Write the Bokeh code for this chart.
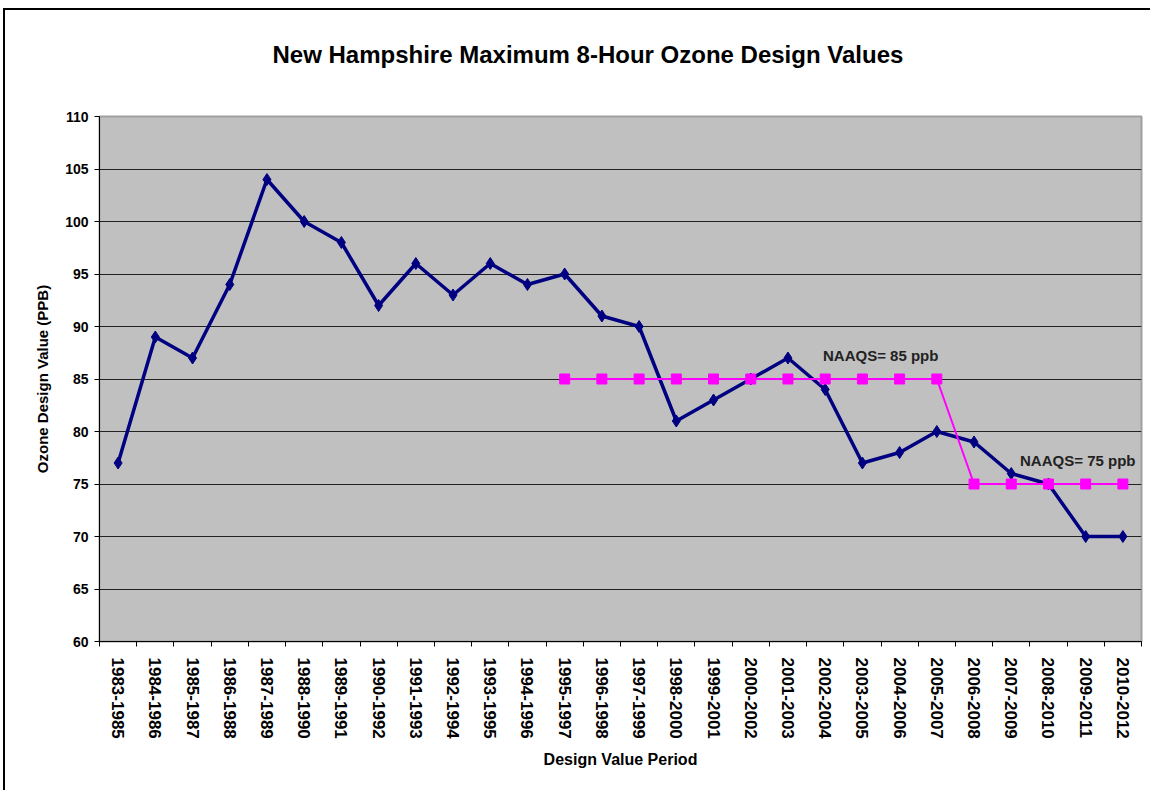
from bokeh.plotting import figure
from bokeh.models import (Range1d, FixedTicker, LinearAxis, Label, ColumnDataSource, Grid, Title)
from bokeh.embed import file_html
from bokeh.resources import INLINE

periods = ["1983-1985", "1984-1986", "1985-1987", "1986-1988", "1987-1989", "1988-1990",
           "1989-1991", "1990-1992", "1991-1993", "1992-1994", "1993-1995", "1994-1996",
           "1995-1997", "1996-1998", "1997-1999", "1998-2000", "1999-2001", "2000-2002",
           "2001-2003", "2002-2004", "2003-2005", "2004-2006", "2005-2007", "2006-2008",
           "2007-2009", "2008-2010", "2009-2011", "2010-2012"]
design_values = [77, 89, 87, 94, 104, 100, 98, 92, 96, 93, 96, 94, 95, 91, 90, 81, 83, 85,
                 87, 84, 77, 78, 80, 79, 76, 75, 70, 70]
naaqs_periods = ["1995-1997", "1996-1998", "1997-1999", "1998-2000", "1999-2001", "2000-2002",
                 "2001-2003", "2002-2004", "2003-2005", "2004-2006", "2005-2007", "2006-2008",
                 "2007-2009", "2008-2010", "2009-2011", "2010-2012"]
naaqs_values = [85, 85, 85, 85, 85, 85, 85, 85, 85, 85, 85, 75, 75, 75, 75, 75]
y_ticks = [60, 65, 70, 75, 80, 85, 90, 95, 100, 105, 110]
title_text = "New Hampshire Maximum 8-Hour Ozone Design Values"

FONT = "Liberation Sans"

idx = {c: i for i, c in enumerate(periods)}
x_main = [idx[c] + 0.5 for c in periods]
x_naaqs = [idx[c] + 0.5 for c in naaqs_periods]

p = figure(width=1147, height=782, output_backend="svg", toolbar_location=None,
           x_range=Range1d(0, len(periods)), y_range=Range1d(y_ticks[0], y_ticks[-1]),
           x_axis_type=None, y_axis_type=None,
           min_border_left=94, min_border_right=11, min_border_top=106, min_border_bottom=151,
           background_fill_color="#C0C0C0", border_fill_color="white",
           outline_line_color="#A0A0A0", outline_line_width=2)
p.styles = {"border-left": "2px solid black", "border-top": "2px solid black",
            "margin-left": "3px", "margin-top": "8px"}

# y axis
yax = LinearAxis(ticker=FixedTicker(ticks=y_ticks, minor_ticks=[]))
yax.axis_line_color = "black"
yax.major_tick_out = 5
yax.major_tick_in = 0
yax.major_label_text_font = FONT
yax.major_label_text_font_style = "bold"
yax.major_label_text_font_size = "14px"
yax.major_label_text_color = "black"
yax.major_label_standoff = 6
yax.axis_label = "Ozone Design Value (PPB)"
yax.axis_label_text_font = FONT
yax.axis_label_text_font_style = "bold"
yax.axis_label_text_font_size = "15px"
yax.axis_label_text_color = "black"
yax.axis_label_standoff = 11
p.add_layout(yax, "left")

# x axis: labels at category centres, tick marks at boundaries
xax = LinearAxis(ticker=FixedTicker(ticks=x_main, minor_ticks=list(range(len(periods) + 1))))
xax.major_label_overrides = {x: c for x, c in zip(x_main, periods)}
xax.major_label_orientation = "vertical"
xax.major_tick_line_color = None
xax.minor_tick_out = 5
xax.minor_tick_in = 0
xax.minor_tick_line_color = "black"
xax.axis_line_color = "black"
xax.major_label_text_font = FONT
xax.major_label_text_font_style = "bold"
xax.major_label_text_font_size = "17px"
xax.major_label_text_color = "black"
xax.major_label_standoff = 10
xax.axis_label = "Design Value Period"
xax.axis_label_text_font = FONT
xax.axis_label_text_font_style = "bold"
xax.axis_label_text_font_size = "16px"
xax.axis_label_text_color = "black"
xax.axis_label_standoff = 9
p.add_layout(xax, "below")

grid = Grid(dimension=1, ticker=FixedTicker(ticks=y_ticks[1:-1]),
            grid_line_color="#222222", grid_line_width=1)
p.add_layout(grid)

# title: an empty second line lifts it higher above the plot area
p.title = Title(text=title_text + "\n ", text_font=FONT, text_font_style="bold",
                text_font_size="24px", text_color="black", align="left", offset=173,
                vertical_align="top")
p.title.standoff = 40

src = ColumnDataSource(dict(x=x_main, y=design_values))
p.line("x", "y", source=src, line_color="#000080", line_width=3.5)
p.scatter("x", "y", source=src, marker="diamond", size=12, fill_color="#000080",
          line_color="#000080")

nsrc = ColumnDataSource(dict(x=x_naaqs, y=naaqs_values))
p.line("x", "y", source=nsrc, line_color="#FF00FF", line_width=2)
p.scatter("x", "y", source=nsrc, marker="square", size=10, fill_color="#FF00FF",
          line_color="#FF00FF")

lab1 = Label(x=idx["2001-2003"] + 0.5, y=naaqs_values[0], x_offset=35, y_offset=23.5,
             text="NAAQS= 85 ppb", text_font=FONT, text_font_style="bold",
             text_font_size="15px", text_color="#222222", text_baseline="middle")
lab2 = Label(x=idx["2006-2008"] + 0.5, y=naaqs_values[-1], x_offset=46, y_offset=23.5,
             text="NAAQS= 75 ppb", text_font=FONT, text_font_style="bold",
             text_font_size="15px", text_color="#222222", text_baseline="middle")
p.add_layout(lab1)
p.add_layout(lab2)

open("out.html", "w").write(file_html(p, INLINE))
